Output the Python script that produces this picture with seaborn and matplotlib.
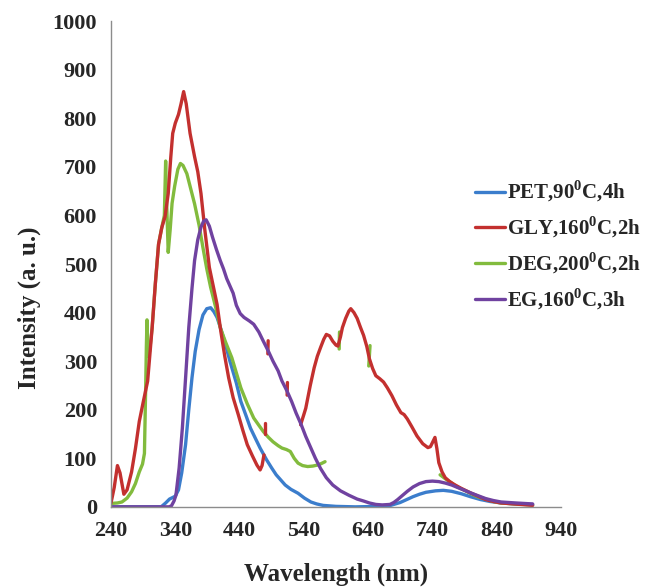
import pandas as pd
import seaborn as sns
import matplotlib.pyplot as plt
from matplotlib.lines import Line2D

# PL emission spectra
pet_wl = [240, 300, 318, 325, 331, 340, 345, 350, 356, 361, 366, 371, 377, 383, 389, 395,
          400, 405, 410, 415, 420, 425, 435, 442, 450, 457, 465, 472, 482, 490, 497, 505,
          511, 520, 531, 541, 551, 560, 570, 590, 620, 660, 675, 690, 700, 710, 720, 730,
          745, 757, 770, 785, 799, 815, 830, 847, 870, 896]
pet_int = [0, 0, 0, 8, 16, 22, 35, 70, 128, 200, 266, 320, 365, 395, 408, 410,
           402, 390, 370, 348, 325, 300, 255, 217, 188, 162, 140, 121, 97, 80, 66, 54,
           45, 36, 28, 18, 10, 6, 3, 1, 0, 1, 3, 9, 15, 21, 26, 30,
           33, 34, 32, 27, 21, 15, 11, 8, 6, 5]

gly_wl_a = [240, 245, 250, 254, 260, 265, 272, 278, 284, 290, 297, 304, 309, 314, 319, 324,
            329, 333, 336, 340, 345, 349, 353, 357, 363, 370, 375, 380, 386, 393, 399, 405,
            411, 417, 423, 430, 438, 445, 452, 460, 467, 472, 475, 478]
gly_int_a = [8, 40, 85, 70, 26, 35, 72, 120, 176, 215, 259, 369, 460, 541, 575, 597,
             645, 720, 769, 790, 808, 830, 855, 830, 769, 721, 690, 645, 570, 493, 455, 417,
             360, 310, 266, 225, 190, 158, 128, 105, 86, 76, 85, 107]
gly_wl_b = [535, 540, 543, 550, 556, 561, 566, 571, 575, 580, 585, 590, 593, 597, 600, 605,
            610, 613, 618, 623, 628, 633, 638, 642, 647, 652, 658, 664, 670, 677, 684, 691,
            696, 701, 708, 716, 725, 733, 737, 740, 744, 747, 750, 755, 760, 767, 774, 785,
            799, 811, 823, 835, 847, 877, 896]
gly_int_b = [169, 190, 203, 250, 286, 310, 328, 345, 355, 352, 341, 333, 331, 350, 369, 388,
             403, 408, 400, 388, 370, 353, 330, 305, 285, 270, 264, 257, 245, 229, 210, 194,
             190, 181, 165, 146, 130, 122, 124, 132, 143, 120, 91, 72, 60, 52, 46, 38,
             29, 22, 15, 11, 8, 5, 3]
# short stray red strokes left in the original figure
gly_tick_wl = [[480, 480], [484, 484.5], [514, 514.5]]
gly_tick_int = [[150, 172], [315, 342], [230, 256]]

deg_wl_a = [240, 250, 257, 265, 272, 278, 284, 289, 292, 294, 295, 296, 297, 300, 304, 309,
            314, 319, 323, 325, 326, 329, 332, 335, 339, 344, 348, 352, 358, 364, 370, 377,
            383, 389, 395, 403, 410, 418, 428, 435, 442, 452, 462, 470, 477, 485, 492, 500,
            506, 513, 519, 525, 531, 538, 546, 554, 561, 567, 573]
deg_int_a = [7, 8, 10, 18, 31, 48, 72, 88, 110, 250, 330, 385, 310, 320, 369, 460,
             541, 575, 600, 712, 650, 524, 570, 625, 660, 695, 707, 703, 686, 655, 624, 580,
             534, 490, 452, 410, 369, 340, 307, 276, 245, 212, 183, 168, 155, 143, 134, 126,
             121, 118, 114, 100, 90, 85, 83, 84, 86, 89, 93]
deg_wl_b = [752, 755, 762, 769, 779, 790, 799, 810, 823, 835, 847, 870, 896]
deg_int_b = [66, 63, 56, 50, 41, 34, 28, 21, 16, 11, 8, 6, 4]
deg_tick_wl = [[595, 595.5], [641, 643]]
deg_tick_int = [[325, 360], [290, 332]]

eg_wl = [240, 300, 330, 334, 338, 341, 346, 351, 356, 361, 366, 370, 375, 380, 384, 388,
         393, 398, 404, 410, 415, 420, 425, 430, 435, 441, 447, 455, 462, 470, 477, 485,
         492, 500, 506, 514, 521, 528, 536, 543, 551, 558, 566, 575, 585, 597, 610, 623,
         633, 642, 652, 662, 674, 680, 686, 693, 701, 710, 720, 730, 740, 750, 760, 770,
         779, 790, 799, 811, 823, 835, 847, 870, 896]
eg_int = [0, 0, 0, 2, 12, 24, 80, 162, 265, 369, 450, 507, 550, 576, 588, 591,
          578, 555, 530, 507, 490, 470, 455, 440, 415, 398, 390, 383, 376, 360, 341, 320,
          300, 280, 259, 238, 217, 193, 169, 145, 121, 100, 79, 60, 45, 33, 24, 16,
          12, 8, 5, 4, 5, 9, 15, 23, 32, 41, 48, 52, 53, 52, 49, 45,
          40, 34, 29, 23, 17, 13, 10, 8, 6]

labels = {
    "PET": r"PET,90$^{\mathbf{0}}$C,4h",
    "GLY": r"GLY,160$^{\mathbf{0}}$C,2h",
    "DEG": r"DEG,200$^{\mathbf{0}}$C,2h",
    "EG": r"EG,160$^{\mathbf{0}}$C,3h",
}
colors = {"PET": "#3b7dcc", "GLY": "#c3302f", "DEG": "#82bb3d", "EG": "#7042a0"}
legend_order = ["PET", "GLY", "DEG", "EG"]
draw_order = ["PET", "DEG", "GLY", "EG"]


def segments(sample, pieces):
    rows = []
    for k, (wl, it) in enumerate(pieces):
        for w, v in zip(wl, it):
            rows.append({"sample": sample, "seg": k, "wl": w, "I": v})
    return rows


rows = []
rows += segments("PET", [(pet_wl, pet_int)])
rows += segments("GLY", [(gly_wl_a, gly_int_a), (gly_wl_b, gly_int_b)]
                 + list(zip(gly_tick_wl, gly_tick_int)))
rows += segments("DEG", [(deg_wl_a, deg_int_a), (deg_wl_b, deg_int_b)]
                 + list(zip(deg_tick_wl, deg_tick_int)))
rows += segments("EG", [(eg_wl, eg_int)])
df = pd.DataFrame(rows)

sns.set_style("white")
plt.rcParams["font.family"] = ["Liberation Serif", "DejaVu Serif"]
plt.rcParams["font.weight"] = "bold"
plt.rcParams["mathtext.fontset"] = "custom"
plt.rcParams["mathtext.bf"] = "Liberation Serif:bold"
plt.rcParams["mathtext.rm"] = "Liberation Serif:bold"

fig = plt.figure(figsize=(6.53, 5.88), dpi=100, facecolor="white")
ax = fig.add_axes([0.170, 0.138, 0.689, 0.826])

for s in draw_order:
    sns.lineplot(data=df[df["sample"] == s], x="wl", y="I", units="seg",
                 estimator=None, sort=False, color=colors[s], lw=2.4, ax=ax,
                 legend=False)

ax.set_xlim(240, 940)
ax.set_ylim(0, 1000)
ax.set_xticks(range(240, 941, 100))
ax.set_yticks(range(0, 1001, 100))
for side in ["top", "right"]:
    ax.spines[side].set_visible(False)
for side in ["left", "bottom"]:
    ax.spines[side].set_color("#8c8c8c")
    ax.spines[side].set_linewidth(1.0)
ax.tick_params(direction="out", length=5, width=1, color="#8c8c8c",
               labelsize=16, pad=5)
for t in ax.get_xticklabels() + ax.get_yticklabels():
    t.set_fontweight("bold")

ax.set_xlabel("Wavelength (nm)", fontsize=18, fontweight="bold")
ax.set_ylabel("Intensity (a. u.)", fontsize=18, fontweight="bold")
ax.xaxis.set_label_coords(0.5, -0.115)
ax.yaxis.set_label_coords(-0.155, 0.41)

handles = [Line2D([], [], color=colors[s], lw=2.4) for s in legend_order]
ax.legend(handles, [labels[s] for s in legend_order], loc="upper left",
          bbox_to_anchor=(0.81, 0.675), frameon=False, fontsize=15,
          handlelength=1.4, handletextpad=0.1, labelspacing=0.5,
          borderaxespad=0, borderpad=0)

plt.savefig("out.png", dpi=100, facecolor="white")
plt.close()
